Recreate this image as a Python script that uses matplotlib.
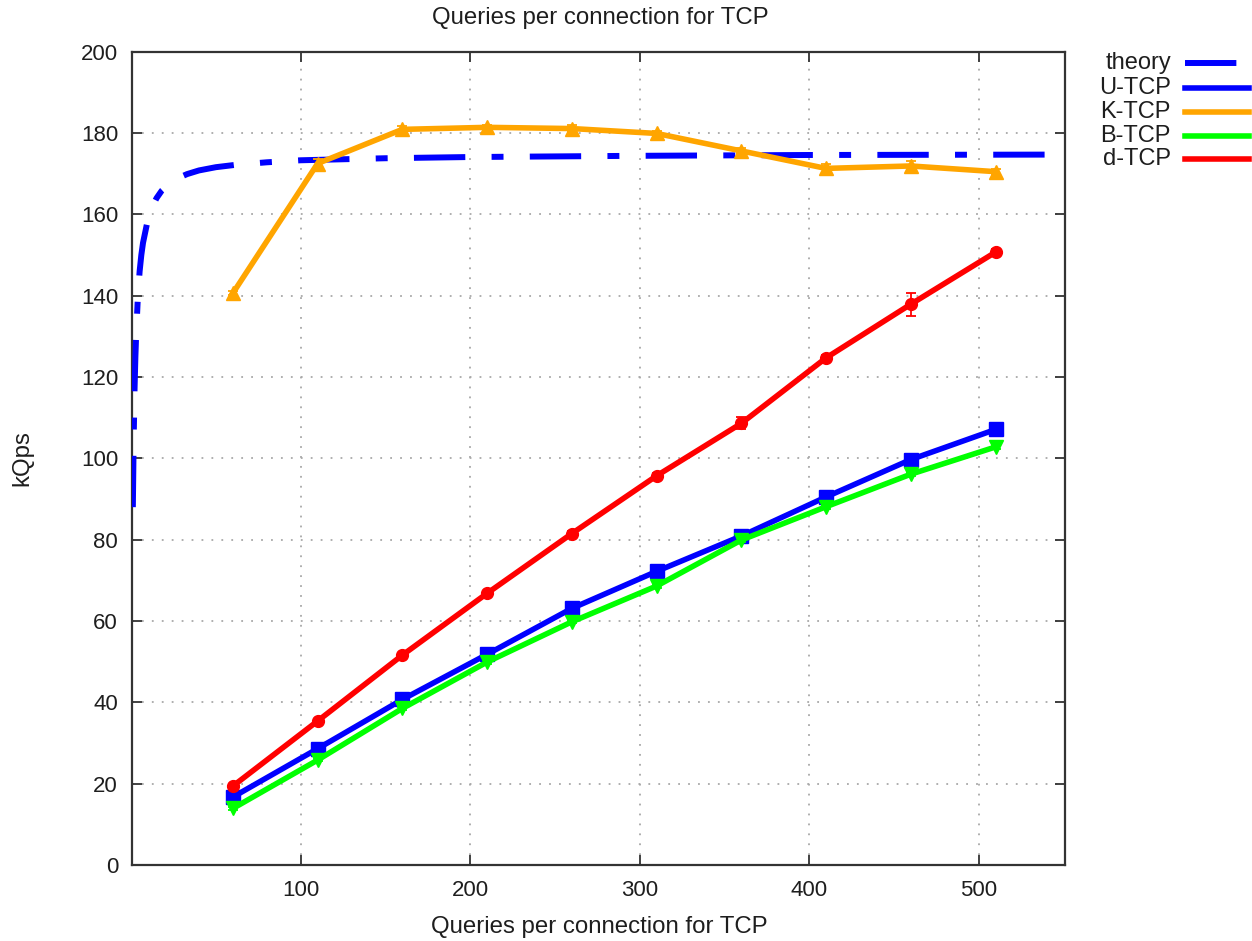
import matplotlib
matplotlib.use("Agg")
import matplotlib.pyplot as plt
from matplotlib.lines import Line2D

# ---- data ----
queries = [60, 110, 160, 210, 260, 310, 360, 410, 460, 510]
u_tcp = [16.7, 28.6, 40.7, 51.8, 63.1, 72.2, 80.9, 90.5, 99.7, 107.1]
u_err = [0.4, 0.4, 0.4, 0.4, 0.5, 0.5, 0.5, 0.5, 0.6, 0.6]
k_tcp = [140.6, 172.5, 180.9, 181.4, 181.1, 179.9, 175.6, 171.3, 171.9, 170.5]
k_err = [0.5, 1.0, 0.8, 0.6, 0.8, 0.6, 0.6, 1.2, 1.3, 0.6]
b_tcp = [13.9, 25.8, 38.5, 49.9, 59.8, 68.6, 79.9, 88.1, 96.1, 102.8]
b_err = [0.3, 0.3, 0.3, 0.4, 0.4, 0.4, 0.5, 0.5, 0.5, 0.5]
d_tcp = [19.4, 35.4, 51.6, 66.8, 81.5, 95.7, 108.6, 124.7, 137.9, 150.7]
d_err = [0.5, 0.6, 0.6, 0.6, 0.6, 0.8, 1.5, 0.8, 2.8, 0.8]

theory_x = [1, 1.5, 2, 2.5, 3, 4, 5, 6, 7, 8.5, 10, 12, 15, 18, 22, 27, 33,
            40, 50, 62, 80, 100, 150, 200, 300, 400, 551]
theory_y = [88, 105, 117, 125, 131, 140, 146, 150, 153, 156, 159, 161.5, 164,
            165.8, 167.3, 168.8, 169.9, 170.8, 171.6, 172.2, 172.8, 173.3,
            173.8, 174.1, 174.4, 174.6, 174.7]

x_ticks = [100, 200, 300, 400, 500]
y_ticks = [0, 20, 40, 60, 80, 100, 120, 140, 160, 180, 200]

labels = ["theory", "U-TCP", "K-TCP", "B-TCP", "d-TCP"]
colors = ["#0000ff", "#0000ff", "#ffa500", "#00ff00", "#ff0000"]

title = "Queries per connection for TCP"
xlabel = "Queries per connection for TCP"
ylabel = "kQps"

# ---- style ----
plt.rcParams['font.family'] = ['Liberation Sans', 'DejaVu Sans']
FS = 16
FS_T = 17.3
TXT = "#1e1e1e"

fig = plt.figure(figsize=(12.52, 9.41), dpi=100)
ax = fig.add_axes([132 / 1252, 1 - 865 / 941, (1065 - 132) / 1252, (865 - 51.7) / 941])

theory_dash = (8.6, 4.4, 2.0, 4.4)
LW = 4.0

ax.plot(theory_x, theory_y, color=colors[0], lw=4.3, dashes=theory_dash,
        dash_capstyle='butt', zorder=3)

series = [
    (u_tcp, u_err, colors[1], 's', 10.5),
    (k_tcp, k_err, colors[2], '^', 10.5),
    (b_tcp, b_err, colors[3], 'v', 10.5),
    (d_tcp, d_err, colors[4], 'o', 8.5),
]
for i, (vals, errs, c, m, ms) in enumerate(series):
    ax.errorbar(queries, vals, yerr=errs, color=c, lw=LW, marker=m, ms=ms,
                elinewidth=1.3, capsize=3.6, capthick=1.3, zorder=4 + i)

ax.set_xlim(0.5, 551)
ax.set_ylim(0, 200)
ax.set_xticks(x_ticks)
ax.set_yticks(y_ticks)
ax.tick_params(direction='in', length=7, width=1.3, top=True, right=True,
               labelsize=FS, colors="#333333", labelcolor=TXT)
ax.tick_params(axis='y', pad=10)
ax.tick_params(axis='x', pad=11)
ax.grid(True, color="#a8a8a8", linestyle=(0, (1, 4.5)), lw=1.3)
for s in ax.spines.values():
    s.set_color("#333333")
    s.set_linewidth(1.6)

fig.text(600 / 1252, 1 - 18 / 941, title, ha='center', va='center', fontsize=FS_T, color=TXT)
fig.text(599 / 1252, 1 - 927 / 941, xlabel, ha='center', va='center', fontsize=FS_T, color=TXT)
fig.text(22 / 1252, 1 - 458 / 941, ylabel, ha='center', va='center', fontsize=FS_T,
         rotation=90, color=TXT)

# ---- legend (gnuplot style: label then sample line) ----
rows_px = [63.3, 87.7, 111.7, 136, 159.3]
for i, (lab, c) in enumerate(zip(labels, colors)):
    yf = 1 - rows_px[i] / 941
    fig.text(1171 / 1252, yf, lab, ha='right', va='center', fontsize=17, color=TXT)
    kw = dict(dashes=theory_dash, dash_capstyle='butt', lw=4.3) if i == 0 else dict(lw=LW)
    fig.add_artist(Line2D([1185 / 1252, 1249 / 1252], [yf, yf], color=c,
                          transform=fig.transFigure, **kw))

fig.savefig("out.png", dpi=100)
